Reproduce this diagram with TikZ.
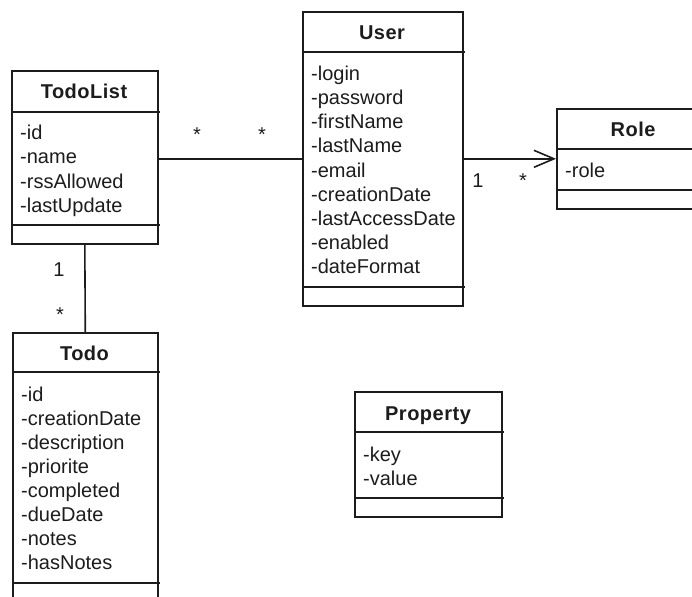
\documentclass[tikz,border=0pt]{standalone}
\usepackage{fontspec}
\setmainfont{Liberation Sans}
\newfontfamily\headfont{Liberation Sans}[LetterSpace=2.5]
\usetikzlibrary{arrows.meta}
\definecolor{ink}{HTML}{1C1C1C}
\tikzset{
  classbox/.style={draw=ink, line width=1.6pt, rectangle, inner sep=0pt, anchor=north west},
  divider/.style={draw=ink, line width=1.6pt},
  classtitle/.style={font=\headfont\fontsize{20}{24}\selectfont\bfseries, text=ink, anchor=base, inner sep=0pt},
  attr/.style={font=\fontsize{20}{24}\selectfont, text=ink, anchor=base west, inner sep=0pt},
  mult/.style={font=\fontsize{20}{24}\selectfont, text=ink, anchor=base, inner sep=0pt},
  assoc/.style={draw=ink, line width=1.6pt},
}
\begin{document}
\begin{tikzpicture}[x=1pt, y=-1pt]
\useasboundingbox (0,0) rectangle (692,596);
\clip (0,0) rectangle (692,596);

% ---- TodoList ----
\node[classbox, minimum width=146pt, minimum height=173pt] (todolist) at (11,70) {};
\draw[divider] (11,112) -- (160,112);
\draw[divider] (11,225) -- (160,225);
\node[classtitle] (todolist-title) at (84,99) {TodoList};
\foreach \t [count=\i from 0] in {-id,-name,-rssAllowed,-lastUpdate}
  \node[attr] (todolist-a\i) at (20,140+24*\i) {\t};

% ---- User ----
\node[classbox, minimum width=160pt, minimum height=294pt] (user) at (302,11) {};
\draw[divider] (302,52) -- (465,52);
\draw[divider] (302,287) -- (465,287);
\node[classtitle] (user-title) at (382,40) {User};
\foreach \t [count=\i from 0] in {-login,-password,-firstName,-lastName,-email,-creationDate,-lastAccessDate,-enabled,-dateFormat}
  \node[attr] (user-a\i) at (311,81+24*\i) {\t};

% ---- Role ----
\node[classbox, minimum width=154pt, minimum height=100pt] (role) at (556,108) {};
\draw[divider] (556,149) -- (712,149);
\draw[divider] (556,190) -- (712,190);
\node[classtitle] (role-title) at (633,136) {Role};
\node[attr] (role-a0) at (565,177) {-role};

% ---- Todo ----
\node[classbox, minimum width=145pt, minimum height=290pt] (todo) at (12,332) {};
\draw[divider] (12,372) -- (160,372);
\draw[divider] (12,583) -- (160,583);
\node[classtitle] (todo-title) at (84.5,360) {Todo};
\foreach \t [count=\i from 0] in {-id,-creationDate,-description,-priorite,-completed,-dueDate,-notes,-hasNotes}
  \node[attr] (todo-a\i) at (21,401+24*\i) {\t};

% ---- Property ----
\node[classbox, minimum width=147pt, minimum height=125pt] (property) at (354,391) {};
\draw[divider] (354,432) -- (504,432);
\draw[divider] (354,498) -- (504,498);
\node[classtitle] (property-title) at (428,420) {Property};
\node[attr] (property-a0) at (363,461) {-key};
\node[attr] (property-a1) at (363,485) {-value};

% ---- associations ----
\draw[assoc] (todolist.east |- user.west) -- (user.west);
\draw[assoc] (todolist.south) -- (todo.north);
\draw[assoc, -{Straight Barb[length=20pt, width=17pt]}] (user.east) -- (role.west);

% ---- multiplicities ----
\node[mult] (m-tl-user) at (197,142) {*};
\node[mult] (m-user-tl) at (262,142) {*};
\node[mult] (m-tl-todo) at (59,276) {1};
\node[mult] (m-todo-tl) at (60,321) {*};
\node[mult] (m-user-role) at (478,187) {1};
\node[mult] (m-role-user) at (523,187) {*};
\end{tikzpicture}
\end{document}
